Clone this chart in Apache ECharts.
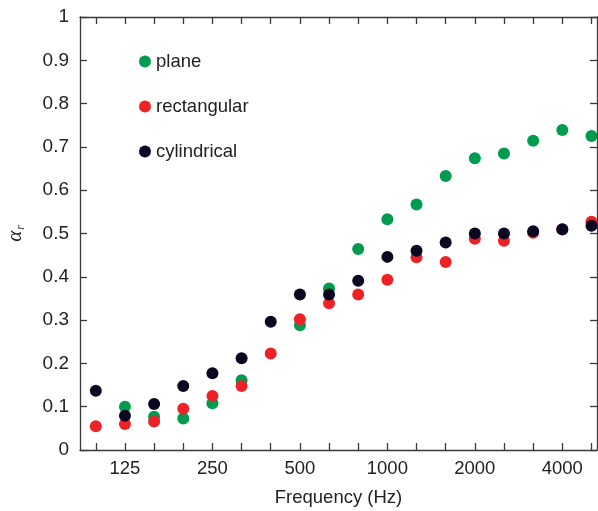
<!DOCTYPE html>
<html>
<head>
<meta charset="utf-8">
<script src="https://cdn.jsdelivr.net/npm/echarts@6/dist/echarts.min.js"></script>
<style>html,body{margin:0;padding:0;background:#fff}#c{width:598px;height:511px}</style>
</head>
<body>
<div id="c"></div>
<script>
var bands = ['100','125','160','200','250','315','400','500','630','800','1000','1250','1600','2000','2500','3150','4000','5000'];
var labelBands = ['125','250','500','1000','2000','4000'];
var plane       = [null,0.100,0.077,0.073,0.108,0.161,null,0.288,0.373,0.464,0.533,0.567,0.633,0.674,0.685,0.714,0.739,0.725];
var rectangular = [0.055,0.060,0.066,0.095,0.125,0.148,0.223,0.302,0.339,0.359,0.393,0.445,0.434,0.488,0.483,0.502,0.509,0.527];
var cylindrical = [0.137,0.079,0.106,0.148,0.177,0.212,0.296,0.359,0.359,0.391,0.446,0.460,0.479,0.500,0.500,0.505,0.510,0.518];
var yTicks = [0,0.1,0.2,0.3,0.4,0.5,0.6,0.7,0.8,0.9,1];

function pts(arr){ return arr.map(function(v,i){ return [i, v]; }).filter(function(p){ return p[1] !== null; }); }
var tickIdx = bands.map(function(b,i){ return i; });
var labelIdx = labelBands.map(function(b){ return bands.indexOf(b); });

var FONT = 'Liberation Sans, Arial, Helvetica, sans-serif';
var axisColor = '#3a3a3a';
var txt = '#222';
var chart = echarts.init(document.getElementById('c'), null, {renderer:'canvas'});
var xBase = {
  type:'value', min:-0.542, max:17.19, splitLine:{show:false},
  axisLine:{show:true, onZero:false, lineStyle:{color:axisColor, width:1.3}},
  axisTick:{show:true, inside:true, length:7, customValues:tickIdx, lineStyle:{color:axisColor, width:1.3}}
};
var yBase = {
  type:'value', min:0, max:1, interval:0.1, splitLine:{show:false},
  axisLine:{show:true, onZero:false, lineStyle:{color:axisColor, width:1.3}},
  axisTick:{show:true, inside:true, length:7, lineStyle:{color:axisColor, width:1.3}}
};
chart.setOption({
  animation:false,
  textStyle:{fontFamily:FONT},
  grid:{left:80, right:1, top:17, bottom:61, containLabel:false, outerBoundsMode:'none'},
  legend:{
    orient:'vertical', left:134, top:47, itemGap:26, itemWidth:12, itemHeight:12, icon:'circle',
    textStyle:{fontFamily:FONT, fontSize:18.5, color:txt},
    data:['plane','rectangular','cylindrical']
  },
  xAxis:[
    Object.assign({}, xBase, {
      position:'bottom',
      name:'Frequency (Hz)', nameLocation:'middle', nameGap:38,
      nameTextStyle:{fontFamily:FONT, fontSize:18.5, color:txt},
      axisLabel:{show:true, customValues:labelIdx, margin:9, fontSize:18.5, color:txt, fontFamily:FONT,
        formatter:function(v){ return bands[Math.round(v)]; }}
    }),
    Object.assign({}, xBase, {position:'top', axisLabel:{show:false}})
  ],
  yAxis:[
    Object.assign({}, yBase, {
      position:'left',
      axisLabel:{margin:11, fontSize:19, color:txt, fontFamily:FONT,
        formatter:function(v){ return String(Math.round(v*10)/10); }},
      name:'{a|α}{r|r}', nameLocation:'middle', nameGap:53, nameRotate:90,
      nameTextStyle:{rich:{
        a:{fontFamily:'Liberation Serif, DejaVu Serif, serif', fontStyle:'italic', fontSize:21, color:txt},
        r:{fontFamily:'Liberation Serif, DejaVu Serif, serif', fontStyle:'italic', fontSize:12, color:txt, padding:[12,0,0,1]}
      }}
    }),
    Object.assign({}, yBase, {position:'right', axisLabel:{show:false}})
  ],
  series:[
    {name:'plane', type:'scatter', symbolSize:12, itemStyle:{color:'#009B4E', opacity:1}, data:pts(plane)},
    {name:'rectangular', type:'scatter', symbolSize:12, itemStyle:{color:'#EC2227', opacity:1}, data:pts(rectangular)},
    {name:'cylindrical', type:'scatter', symbolSize:12, itemStyle:{color:'#0B0720', opacity:1}, data:pts(cylindrical)}
  ]
});
</script>
</body>
</html>
